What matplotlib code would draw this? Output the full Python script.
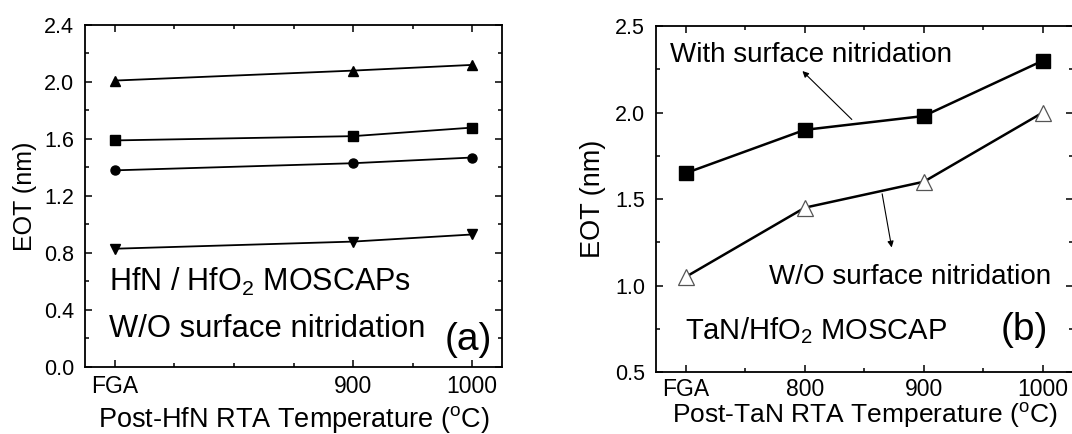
import matplotlib
matplotlib.use("Agg")
import matplotlib.pyplot as plt
from matplotlib.ticker import MultipleLocator, FixedLocator, FormatStrFormatter

plt.rcParams['font.family'] = ['Liberation Sans', 'DejaVu Sans']
plt.rcParams['mathtext.fontset'] = 'custom'
plt.rcParams['mathtext.rm'] = 'Liberation Sans'
plt.rcParams['mathtext.default'] = 'regular'

# ---- data (a) ----
a_x = [700, 900, 1000]
a_tick_labels = ['FGA', '900', '1000']
a_tri_up = [2.01, 2.08, 2.12]
a_square = [1.59, 1.62, 1.68]
a_circle = [1.38, 1.43, 1.47]
a_tri_down = [0.83, 0.88, 0.93]

# ---- data (b) ----
b_x = [700, 800, 900, 1000]
b_tick_labels = ['FGA', '800', '900', '1000']
b_with = [1.65, 1.90, 1.98, 2.30]
b_without = [1.05, 1.45, 1.60, 2.00]

fig = plt.figure(figsize=(10.72, 4.34), dpi=100)
axA = fig.add_axes([0.0793, 0.1544, 0.389, 0.788])
axB = fig.add_axes([0.612, 0.1429, 0.3885, 0.797])

def style(ax, pad):
    for s in ax.spines.values():
        s.set_linewidth(1.3)
    ax.tick_params(which='both', direction='in', top=True, right=True, width=1.1)
    ax.tick_params(axis='y', pad=8, labelsize=15.5)
    ax.tick_params(axis='x', pad=pad, labelsize=16.5)
    ax.tick_params(which='major', length=5)
    ax.tick_params(which='minor', length=3)

# panel (a)
for y, m in [(a_tri_up, '^'), (a_square, 's'), (a_circle, 'o'), (a_tri_down, 'v')]:
    axA.plot(a_x, y, color='black', lw=1.3, marker=m, ms=6.5)
axA.set_xlim(675, 1025)
axA.set_ylim(0.0, 2.4)
axA.xaxis.set_major_locator(FixedLocator(a_x))
axA.set_xticklabels(a_tick_labels)
axA.xaxis.set_minor_locator(FixedLocator([750, 800, 850, 950]))
axA.yaxis.set_major_locator(MultipleLocator(0.4))
axA.yaxis.set_minor_locator(MultipleLocator(0.2))
axA.yaxis.set_major_formatter(FormatStrFormatter('%.1f'))
style(axA, 6)
axA.set_xlabel('Post-HfN RTA Temperature ($^{o}$C)', fontsize=19.5, labelpad=4)
axA.set_ylabel('EOT (nm)', fontsize=18, labelpad=5)
axA.text(695, 0.60, 'HfN / HfO$_2$ MOSCAPs', fontsize=22, va='center', ha='left')
axA.text(695, 0.27, 'W/O surface nitridation', fontsize=22.3, va='center', ha='left')
axA.text(1017, 0.19, '(a)', fontsize=28, va='center', ha='right')

# panel (b)
axB.plot(b_x, b_with, color='black', lw=1.8, marker='s', ms=9.5)
axB.plot(b_x, b_without, color='black', lw=1.8, marker='^', ms=11,
         mfc='white', mec='#555555', mew=0.9)
axB.set_xlim(675, 1025)
axB.set_ylim(0.5, 2.5)
axB.xaxis.set_major_locator(FixedLocator(b_x))
axB.set_xticklabels(b_tick_labels)
axB.xaxis.set_minor_locator(FixedLocator([750, 850, 950]))
axB.yaxis.set_major_locator(MultipleLocator(0.5))
axB.yaxis.set_minor_locator(MultipleLocator(0.25))
axB.yaxis.set_major_formatter(FormatStrFormatter('%.1f'))
style(axB, 4)
axB.set_xlabel('Post-TaN RTA Temperature ($^{o}$C)', fontsize=19, labelpad=0)
axB.set_ylabel('EOT (nm)', fontsize=19.5, labelpad=6)
axB.text(687, 2.33, 'With surface nitridation', fontsize=20, va='center', ha='left')
axB.text(1007, 1.05, 'W/O surface nitridation', fontsize=20, va='center', ha='right')
axB.text(699, 0.74, 'TaN/HfO$_2$ MOSCAP', fontsize=21, va='center', ha='left')
axB.text(1004, 0.74, '(b)', fontsize=28, va='center', ha='right')
arrow = dict(arrowstyle='-|>', lw=0.8, color='black', mutation_scale=9, shrinkA=0, shrinkB=0)
axB.annotate('', xy=(798, 2.24), xytext=(839.5, 1.96), arrowprops=arrow)
axB.annotate('', xy=(873, 1.22), xytext=(865, 1.53), arrowprops=arrow)

fig.savefig('out.png', dpi=100)
